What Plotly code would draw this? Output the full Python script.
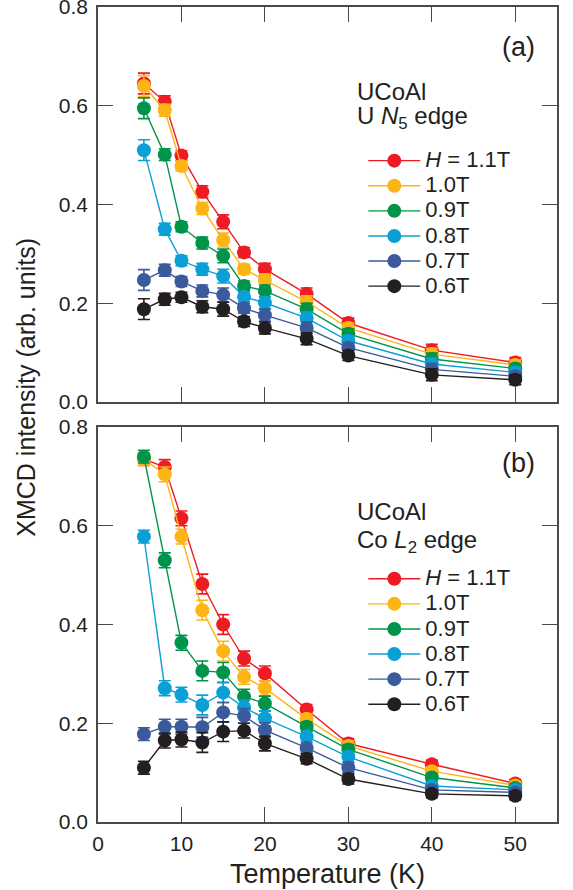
import plotly.graph_objects as go
from plotly.subplots import make_subplots

temps = [5.5, 8, 10, 12.5, 15, 17.5, 20, 25, 30, 40, 50]
fields = ["<i>H</i> = 1.1T", "1.0T", "0.9T", "0.8T", "0.7T", "0.6T"]
colors = ["#ED1C24", "#FDB515", "#00934A", "#0AA0D6", "#3A5A9C", "#231F20"]

# Panel (a): U N5 edge
a_11 = [0.645, 0.608, 0.499, 0.426, 0.365, 0.303, 0.269, 0.219, 0.160, 0.105, 0.080]
a_10 = [0.640, 0.591, 0.478, 0.392, 0.328, 0.269, 0.247, 0.203, 0.150, 0.097, 0.075]
a_09 = [0.595, 0.501, 0.355, 0.322, 0.296, 0.235, 0.225, 0.188, 0.138, 0.087, 0.068]
a_08 = [0.510, 0.350, 0.286, 0.269, 0.255, 0.213, 0.201, 0.170, 0.124, 0.077, 0.060]
a_07 = [0.247, 0.267, 0.244, 0.225, 0.217, 0.190, 0.176, 0.150, 0.110, 0.066, 0.052]
a_06 = [0.188, 0.208, 0.212, 0.193, 0.188, 0.163, 0.150, 0.128, 0.094, 0.055, 0.045]
a_err = [0.021, 0.012, 0.010, 0.012, 0.014, 0.010, 0.012, 0.012, 0.010, 0.012, 0.010]

# Panel (b): Co L2 edge
b_11 = [0.735, 0.719, 0.615, 0.482, 0.400, 0.331, 0.301, 0.228, 0.159, 0.117, 0.078]
b_10 = [0.735, 0.704, 0.578, 0.429, 0.346, 0.294, 0.271, 0.209, 0.154, 0.103, 0.074]
b_09 = [0.740, 0.530, 0.363, 0.306, 0.303, 0.254, 0.240, 0.193, 0.147, 0.090, 0.069]
b_08 = [0.578, 0.271, 0.258, 0.237, 0.262, 0.232, 0.210, 0.173, 0.132, 0.073, 0.065]
b_07 = [0.178, 0.193, 0.193, 0.192, 0.222, 0.215, 0.186, 0.150, 0.110, 0.065, 0.060]
b_06 = [0.110, 0.165, 0.167, 0.161, 0.183, 0.185, 0.159, 0.128, 0.087, 0.057, 0.053]
b_err = [0.013, 0.015, 0.015, 0.020, 0.020, 0.015, 0.015, 0.010, 0.010, 0.008, 0.008]

panel_a = [a_11, a_10, a_09, a_08, a_07, a_06]
panel_b = [b_11, b_10, b_09, b_08, b_07, b_06]

x_ticks = [0, 10, 20, 30, 40, 50]
y_ticks = [0.0, 0.2, 0.4, 0.6, 0.8]

FONT = "Liberation Sans, Arial, Helvetica, sans-serif"
TXT = "#231F20"

fig = make_subplots(rows=2, cols=1, shared_xaxes=False, vertical_spacing=25 / 815)

for row, (panel, err, leg) in enumerate([(panel_a, a_err, "legend"), (panel_b, b_err, "legend2")], start=1):
    for name, vals, col in zip(fields, panel, colors):
        fig.add_trace(
            go.Scatter(
                x=temps, y=vals,
                name='<span style="font-size:22px">' + name + "</span>",
                mode="lines+markers",
                line=dict(color=col, width=1.4),
                marker=dict(color=col, size=14, line=dict(width=0)),
                error_y=dict(type="data", array=err, color=col, thickness=1.6, width=6),
                legend=leg,
            ),
            row=row, col=1,
        )

axis_common = dict(
    showline=True, linecolor="#4a4a4a", linewidth=1.6, mirror="ticks",
    ticks="inside", ticklen=15, tickwidth=1.4, tickcolor="#4a4a4a",
    showgrid=False, zeroline=False, automargin=False,
    ticklabeloverflow="allow",
    tickfont=dict(family=FONT, size=21, color=TXT),
)

fig.update_xaxes(range=[0, 55], tickvals=x_ticks, **axis_common)
fig.update_yaxes(range=[0, 0.8], tickvals=y_ticks, tickformat=".1f", ticklabelstandoff=4, **axis_common)
fig.update_xaxes(showticklabels=False, row=1, col=1)
fig.update_xaxes(ticklabelstandoff=2, row=2, col=1)

legend_common = dict(
    font=dict(family=FONT, size=17, color=TXT),
    bgcolor="rgba(0,0,0,0)", itemwidth=52, tracegroupgap=0,
    xanchor="left", yanchor="top", x=0.578,
)
fig.update_layout(
    legend=dict(y=0.833, **legend_common),
    legend2=dict(y=0.320, **legend_common),
)

ann_font = dict(family=FONT, size=24, color=TXT)
lab_font = dict(family=FONT, size=27, color=TXT)
annotations = [
    dict(text="(a)", x=0.956, y=0.951, xanchor="right", yanchor="middle", font=lab_font),
    dict(text="UCoAl", x=0.56, y=0.896, xanchor="left", yanchor="middle", font=ann_font),
    dict(text="U <i>N</i><sub>5</sub> edge", x=0.56, y=0.864, xanchor="left", yanchor="middle", font=ann_font),
    dict(text="(b)", x=0.956, y=0.440, xanchor="right", yanchor="middle", font=lab_font),
    dict(text="UCoAl", x=0.56, y=0.381, xanchor="left", yanchor="middle", font=ann_font),
    dict(text="Co <i>L</i><sub>2</sub> edge", x=0.56, y=0.344, xanchor="left", yanchor="middle", font=ann_font),
]
for a in annotations:
    fig.add_annotation(xref="paper", yref="paper", showarrow=False, **a)

fig.add_annotation(
    text="XMCD intensity (arb. units)", xref="paper", yref="paper",
    x=-0.157, y=0.534, textangle=-90, showarrow=False,
    xanchor="center", yanchor="middle", font=dict(family=FONT, size=25, color=TXT),
)
fig.add_annotation(
    text="Temperature (K)", xref="paper", yref="paper",
    x=0.499, y=-0.0638, showarrow=False,
    xanchor="center", yanchor="middle", font=dict(family=FONT, size=27, color=TXT),
)

fig.update_layout(
    width=573, height=890,
    margin=dict(l=98, r=16, t=7, b=68, autoexpand=False),
    paper_bgcolor="white", plot_bgcolor="white",
    showlegend=True,
)

fig.write_html(
    "out.html",
    config={"displayModeBar": False},
    post_script="document.body.style.margin='0';",
)
